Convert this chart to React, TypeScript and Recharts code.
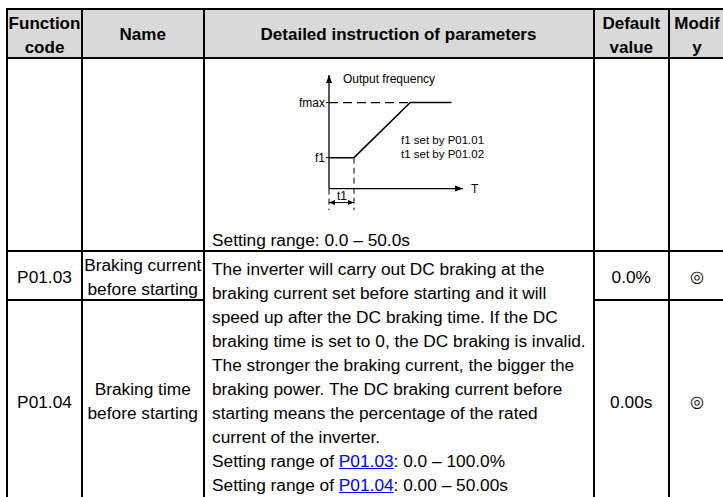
import React from "react";
import { ComposedChart, Line, Scatter, XAxis, YAxis } from "recharts";

// ---------- data ----------
const headers = [
  { lines: ["Function", "code"] },
  { lines: ["Name"] },
  { lines: ["Detailed instruction of parameters"] },
  { lines: ["Default", "value"] },
  { lines: ["Modif", "y"] },
];
const codes = ["P01.03", "P01.04"];
const names = [["Braking current", "before starting"], ["Braking time", "before starting"]];
const defaults = ["0.0%", "0.00s"];
const modifySymbol = "◎";
const settingRangeChart = "Setting range: 0.0 – 50.0s";
const descLines = [
  "The inverter will carry out DC braking at the",
  "braking current set before starting and it will",
  "speed up after the DC braking time. If the DC",
  "braking time is set to 0, the DC braking is invalid.",
  "The stronger the braking current, the bigger the",
  "braking power. The DC braking current before",
  "starting means the percentage of the rated",
  "current of the inverter.",
];
const rangeLines = [
  { pre: "Setting range of ", link: "P01.03", post: ": 0.0 – 100.0%" },
  { pre: "Setting range of ", link: "P01.04", post: ": 0.00 – 50.00s" },
];

// chart data (time units / frequency units)
const f1 = 18;
const fmax = 50;
const t1 = 1;
const tRampEnd = 3.25;
const tEnd = 4.9;
const freqCurve = [
  { t: 0, f: f1 },
  { t: t1, f: f1 },
  { t: tRampEnd, f: fmax },
  { t: tEnd, f: fmax },
];
const yAxisLine = [{ t: 0, f: 0 }, { t: 0, f: 66 }];
const xAxisLine = [{ t: 0, f: 0 }, { t: 5.36, f: 0 }];
const fmaxDashed = [{ t: 0, f: fmax }, { t: tRampEnd, f: fmax }];
const t1Dashed = [{ t: t1, f: f1 }, { t: t1, f: -12.5 }];
const originDashed = [{ t: 0, f: 0 }, { t: 0, f: -12.5 }];
const t1Span = [{ t: 0, f: -8.1 }, { t: t1, f: -8.1 }];
const arrowHeads = [
  { t: 0, f: 66, dir: "up", len: 8, half: 3 },
  { t: 5.36, f: 0, dir: "right", len: 8, half: 3 },
  { t: 0, f: -8.1, dir: "left", len: 6, half: 2.5 },
  { t: t1, f: -8.1, dir: "right", len: 6, half: 2.5 },
];
const annotations = [
  { t: 0.56, f: 63.7, text: "Output frequency", anchor: "start", size: 12 },
  { t: 5.68, f: 0, text: "T", anchor: "start", size: 12 },
  { t: 0.52, f: -4.3, text: "t1", anchor: "middle", size: 12 },
  { t: 2.88, f: 28.3, text: "f1 set by P01.01", anchor: "start", size: 11.5 },
  { t: 2.88, f: 20.4, text: "t1 set by P01.02", anchor: "start", size: 11.5 },
];
const yTicks = [f1, fmax];
const yTickLabels: Record<number, string> = { [f1]: "f1", [fmax]: "fmax" };

// ---------- layout helpers ----------
const FONT = '"Liberation Sans", Arial, sans-serif';
const BODY = 17.3;
const HEAD = 17;
const colX = [7, 82, 203.5, 593.5, 669, 725];
const T = 2;

const HLine = ({ x1, x2, y }: { x1: number; x2: number; y: number }) => (
  <div style={{ position: "absolute", left: x1 - T / 2, top: y - T / 2, width: x2 - x1 + T, height: T, background: "#000" }} />
);
const VLine = ({ x, y1, y2 }: { x: number; y1: number; y2: number }) => (
  <div style={{ position: "absolute", left: x - T / 2, top: y1 - T / 2, width: T, height: y2 - y1 + T, background: "#000" }} />
);

const Lines = ({
  lines,
  left,
  width,
  centerY,
  bold,
  align = "center",
  size = BODY,
}: {
  lines: React.ReactNode[];
  left: number;
  width: number;
  centerY: number;
  bold?: boolean;
  align?: "center" | "left";
  size?: number;
}) => (
  <div
    style={{
      position: "absolute",
      left,
      width,
      top: centerY - (lines.length * 24) / 2,
      lineHeight: "24px",
      fontSize: size,
      fontWeight: bold ? 700 : 400,
      textAlign: align,
      whiteSpace: "nowrap",
      color: "#000",
    }}
  >
    {lines.map((l, i) => (
      <div key={i}>{l}</div>
    ))}
  </div>
);

const Arrow = (props: any) => {
  const { cx, cy, payload } = props;
  const { dir, len, half } = payload;
  let pts = "";
  if (dir === "up") pts = `${cx},${cy} ${cx - half},${cy + len} ${cx + half},${cy + len}`;
  else if (dir === "right") pts = `${cx},${cy} ${cx - len},${cy - half} ${cx - len},${cy + half}`;
  else pts = `${cx},${cy} ${cx + len},${cy - half} ${cx + len},${cy + half}`;
  return <polygon points={pts} fill="#000" />;
};

const Annotation = (props: any) => {
  const { cx, cy, payload } = props;
  return (
    <text x={cx} y={cy} dy="0.35em" textAnchor={payload.anchor} fontSize={payload.size} fontFamily={FONT} fill="#000">
      {payload.text}
    </text>
  );
};

const lineProps = { dataKey: "f", stroke: "#000", dot: false, isAnimationActive: false, strokeWidth: 1.3, legendType: "none" as const };

const Diagram = () => (
  <ComposedChart width={240} height={150} margin={{ top: 10, right: 50, bottom: 4, left: 0 }}>
    <XAxis type="number" dataKey="t" domain={[0, 6]} hide />
    <YAxis
      type="number"
      dataKey="f"
      domain={[-13, 66]}
      ticks={yTicks}
      tickFormatter={(v: number) => yTickLabels[v] ?? ""}
      axisLine={false}
      tickLine={{ stroke: "#000" }}
      tickSize={3}
      tickMargin={1}
      width={40}
      tick={{ fontSize: 12, fill: "#000", fontFamily: FONT }}
      interval={0}
    />
    <Line {...lineProps} data={yAxisLine} />
    <Line {...lineProps} data={xAxisLine} />
    <Line {...lineProps} data={fmaxDashed} strokeDasharray="9 5" />
    <Line {...lineProps} data={t1Dashed} strokeDasharray="6 4" strokeWidth={1} />
    <Line {...lineProps} data={originDashed} strokeDasharray="6 4" strokeWidth={1} />
    <Line {...lineProps} data={t1Span} strokeWidth={1} />
    <Line {...lineProps} data={freqCurve} strokeWidth={1.5} />
    <Scatter data={arrowHeads} dataKey="f" shape={Arrow} isAnimationActive={false} legendType="none" />
    <Scatter data={annotations} dataKey="f" shape={Annotation} isAnimationActive={false} legendType="none" />
  </ComposedChart>
);

export default function App() {
  const topY = 9;
  const headBottom = 58;
  const chartBottom = 251;
  const row1Bottom = 300;
  const bottomY = 502;
  const centers = colX.slice(0, 5).map((x, i) => ({ left: x, width: colX[i + 1] - x }));
  return (
    <div
      style={{
        position: "absolute",
        left: 0,
        top: 0,
        width: 723,
        height: 497,
        overflow: "hidden",
        background: "#fff",
        fontFamily: FONT,
      }}
    >
      {/* header background */}
      <div style={{ position: "absolute", left: colX[0], top: topY, width: colX[5] - colX[0], height: headBottom - topY, background: "#d9d9d9" }} />
      {headers.map((h, i) => (
        <Lines key={i} lines={h.lines} left={centers[i].left} width={centers[i].width} centerY={h.lines.length === 1 ? 35 : 36} bold size={HEAD} />
      ))}

      {/* chart row */}
      <div style={{ position: "absolute", left: 289, top: 65 }}>
        <Diagram />
      </div>
      <Lines lines={[settingRangeChart]} left={212} width={380} centerY={240} align="left" />

      {/* rows */}
      <Lines lines={[codes[0]]} left={centers[0].left} width={centers[0].width} centerY={277} />
      <Lines lines={names[0]} left={centers[1].left} width={centers[1].width} centerY={277} />
      <Lines lines={[defaults[0]]} left={centers[3].left} width={centers[3].width} centerY={277} />
      <Lines lines={[modifySymbol]} left={centers[4].left} width={centers[4].width} centerY={277} size={16} />

      <Lines lines={[codes[1]]} left={centers[0].left} width={centers[0].width} centerY={402} />
      <Lines lines={names[1]} left={centers[1].left} width={centers[1].width} centerY={401} />
      <Lines lines={[defaults[1]]} left={centers[3].left} width={centers[3].width} centerY={402} />
      <Lines lines={[modifySymbol]} left={centers[4].left} width={centers[4].width} centerY={402} size={16} />

      <Lines
        lines={[
          ...descLines,
          ...rangeLines.map((r, i) => (
            <span key={i}>
              {r.pre}
              <span style={{ color: "#0000ff", textDecoration: "underline" }}>{r.link}</span>
              {r.post}
            </span>
          )),
        ]}
        left={212}
        width={380}
        centerY={269 - 12 + 120}
        align="left"
      />

      {/* borders */}
      <HLine x1={colX[0]} x2={colX[5]} y={topY} />
      <HLine x1={colX[0]} x2={colX[5]} y={headBottom} />
      <HLine x1={colX[0]} x2={colX[5]} y={chartBottom} />
      <HLine x1={colX[0]} x2={colX[2]} y={row1Bottom} />
      <HLine x1={colX[3]} x2={colX[5]} y={row1Bottom} />
      {colX.map((x, i) => (
        <VLine key={i} x={x} y1={topY} y2={bottomY} />
      ))}
    </div>
  );
}
